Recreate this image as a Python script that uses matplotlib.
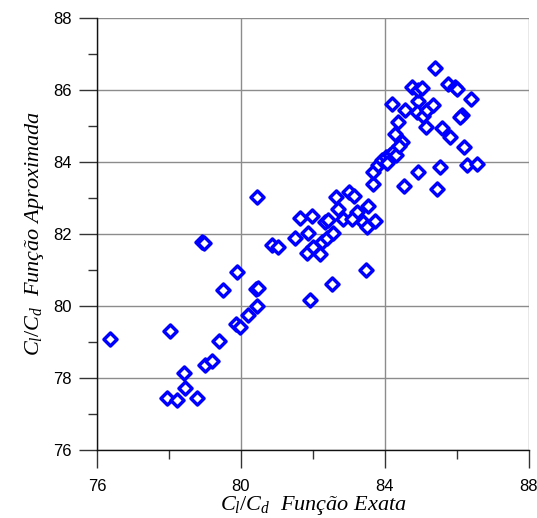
import matplotlib
matplotlib.use("Agg")
import matplotlib.pyplot as plt
from matplotlib.ticker import MultipleLocator

# exact vs approximate Cl/Cd values
cl_cd_exata = [
    76.36, 78.03, 77.94, 78.22, 78.78, 78.44, 78.42, 79.00, 79.19, 79.39,
    79.50, 79.86, 79.97, 80.19, 80.44, 80.42, 80.47, 79.89, 78.92, 78.97,
    80.44, 80.86, 81.03, 81.64, 81.97, 81.50, 81.86, 81.83, 82.00, 82.19,
    82.25, 82.39, 82.56, 82.33, 82.42, 82.64, 83.00, 83.14, 82.69, 82.83,
    83.22, 83.53, 83.08, 83.39, 83.50, 83.72, 83.47, 82.53, 81.92,
    83.67, 83.67, 84.53, 84.92, 85.44, 85.53, 86.28, 86.56, 83.81, 83.92,
    84.03, 84.14, 84.22, 84.31, 84.06, 84.28, 84.47, 84.39, 84.36, 84.19,
    84.56, 84.92, 84.89, 85.06, 85.17, 85.33, 85.14, 85.58, 85.81, 86.19,
    86.14, 86.08, 86.39, 84.75, 84.92, 85.03, 85.39, 85.75, 85.94, 86.00,
]
cl_cd_aprox = [
    79.08, 79.31, 77.44, 77.39, 77.44, 77.72, 78.14, 78.36, 78.47, 79.03,
    80.44, 79.50, 79.42, 79.75, 80.00, 80.47, 80.50, 80.94, 81.78, 81.75,
    83.03, 81.69, 81.64, 82.44, 82.50, 81.89, 82.03, 81.47, 81.64, 81.44,
    81.78, 81.89, 82.03, 82.33, 82.39, 83.03, 83.17, 83.06, 82.69, 82.42,
    82.61, 82.78, 82.42, 82.33, 82.19, 82.36, 81.00, 80.61, 80.17,
    83.39, 83.72, 83.33, 83.72, 83.25, 83.86, 83.92, 83.94, 83.92, 84.06,
    84.14, 84.19, 84.28, 84.19, 83.97, 84.78, 84.56, 84.44, 85.11, 85.61,
    85.44, 85.69, 85.39, 85.28, 85.44, 85.58, 84.97, 84.94, 84.69, 84.42,
    85.31, 85.25, 85.75, 86.08, 86.00, 86.06, 86.61, 86.17, 86.08, 86.03,
]

plt.rcParams["font.family"] = ["Liberation Sans", "DejaVu Sans"]
plt.rcParams["mathtext.fontset"] = "custom"
plt.rcParams["mathtext.it"] = "Liberation Serif:italic"
plt.rcParams["mathtext.rm"] = "Liberation Serif"

fig = plt.figure(figsize=(5.37, 5.18), dpi=100)
ax = fig.add_axes([97 / 537, 68 / 518, 432 / 537, 432 / 518])

ax.scatter(cl_cd_exata, cl_cd_aprox, marker="D", s=44, facecolors="white",
           edgecolors="#0000ff", linewidths=2.5, zorder=3, clip_on=False)

ax.set_xlim(76, 88)
ax.set_ylim(76, 88)
ax.xaxis.set_major_locator(MultipleLocator(4))
ax.xaxis.set_minor_locator(MultipleLocator(2))
ax.yaxis.set_major_locator(MultipleLocator(2))
ax.yaxis.set_minor_locator(MultipleLocator(1))
ax.grid(True, which="major", color="#8c8c8c", lw=1.0)
ax.set_axisbelow(True)

for side in ("top", "right"):
    ax.spines[side].set_visible(False)
for side in ("left", "bottom"):
    ax.spines[side].set_color("#111111")
    ax.spines[side].set_linewidth(1.0)

ax.tick_params(axis="both", which="major", direction="out", length=13,
               width=1.0, color="#333333", labelsize=12)
ax.tick_params(axis="both", which="minor", direction="out", length=6.5,
               width=1.0, color="#333333")
ax.tick_params(axis="x", which="major", pad=8)
ax.tick_params(axis="y", which="major", pad=5)

lbl_font = dict(family="Liberation Serif", style="italic", size=16)
ax.set_xlabel(r"$C_l/C_d$  Função Exata", fontdict=lbl_font, labelpad=0)
ax.set_ylabel(r"$C_l/C_d$  Função Aproximada", fontdict=lbl_font, labelpad=5)

fig.savefig("out.png", dpi=100)
